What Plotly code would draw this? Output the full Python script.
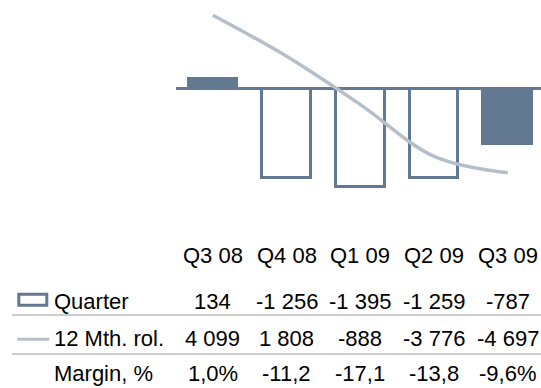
import plotly.graph_objects as go

# Quarterly operating result and 12-month rolling figure
quarters = ["Q3 08", "Q4 08", "Q1 09", "Q2 09", "Q3 09"]
quarter_values = [134, -1256, -1395, -1259, -787]
rolling_values = [4099, 1808, -888, -3776, -4697]
quarter_labels = ["134", "-1 256", "-1 395", "-1 259", "-787"]
rolling_labels = ["4 099", "1 808", "-888", "-3 776", "-4 697"]
margin_labels = ["1,0%", "-11,2", "-17,1", "-13,8", "-9,6%"]
row_titles = ["Quarter", "12 Mth. rol.", "Margin, %"]

SLATE = "#637891"
LIGHT = "#b4bfcc"
FONT = "Liberation Sans, Arial, sans-serif"
W, H = 541, 388

x_idx = list(range(len(quarters)))
fills = [SLATE if i in (0, len(quarters) - 1) else "white" for i in x_idx]

fig = go.Figure()
fig.add_trace(go.Bar(
    x=x_idx, y=quarter_values, width=0.66,
    marker=dict(color=fills, line=dict(color=SLATE, width=3)),
    hoverinfo="skip", showlegend=False,
))
fig.add_trace(go.Scatter(
    x=x_idx, y=rolling_values, yaxis="y2", mode="lines",
    line=dict(color=LIGHT, width=3.5, shape="spline", smoothing=1),
    hoverinfo="skip", showlegend=False,
))


def py(p):
    """Pixel row -> paper y."""
    return 1 - p / H


ann = []
# column headers
for i, q in enumerate(quarters):
    ann.append(dict(x=i, xref="x", y=py(255), yref="paper", text=q,
                    showarrow=False, xanchor="center", yanchor="middle"))
# table rows
row_y = [301, 338, 373]
for r, labels in enumerate([quarter_labels, rolling_labels, margin_labels]):
    for i, t in enumerate(labels):
        ann.append(dict(x=i, xref="x", y=py(row_y[r]), yref="paper", text=t,
                        showarrow=False, xanchor="center", yanchor="middle"))
    ann.append(dict(x=52 / W, xref="paper", y=py(row_y[r]), yref="paper",
                    text=row_titles[r], showarrow=False,
                    xanchor="left", yanchor="middle"))

shapes = [
    # legend keys
    dict(type="rect", xref="paper", yref="paper",
         x0=18.8 / W, x1=46.8 / W, y0=py(305.2), y1=py(294.2),
         line=dict(color=SLATE, width=3), fillcolor="white"),
    dict(type="line", xref="paper", yref="paper",
         x0=17.3 / W, x1=49.3 / W, y0=py(339.3), y1=py(339.3),
         line=dict(color=LIGHT, width=3)),
    # row separators
    dict(type="line", xref="paper", yref="paper",
         x0=12 / W, x1=1, y0=py(315), y1=py(315),
         line=dict(color="#9a9a9a", width=1)),
    dict(type="line", xref="paper", yref="paper",
         x0=12 / W, x1=1, y0=py(354), y1=py(354),
         line=dict(color="#9a9a9a", width=1)),
]

fig.update_layout(
    width=W, height=H, autosize=False,
    margin=dict(l=0, r=0, t=0, b=0, pad=0),
    paper_bgcolor="white", plot_bgcolor="white",
    font=dict(family=FONT, size=22, color="#000000"),
    bargap=0,
    xaxis=dict(domain=[176 / W, 1], range=[-0.5, 4.45], showgrid=False,
               zeroline=False, showticklabels=False, ticks="", showline=False,
               fixedrange=True),
    yaxis=dict(domain=[1 - 220 / H, 1], range=[-1854.5, 1252.8],
               showgrid=False, zeroline=True, zerolinecolor=SLATE,
               zerolinewidth=2.5, showticklabels=False, ticks="",
               showline=False, fixedrange=True),
    yaxis2=dict(overlaying="y", range=[-7335, 4955], showgrid=False,
                zeroline=False, showticklabels=False, ticks="",
                showline=False, fixedrange=True),
    annotations=ann,
    shapes=shapes,
)

fig.write_html("out.html")
